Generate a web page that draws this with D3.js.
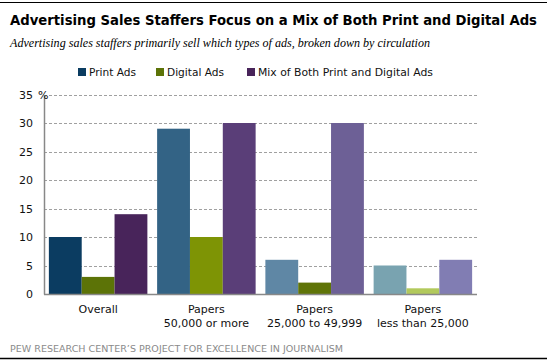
<!DOCTYPE html>
<html>
<head>
<meta charset="utf-8">
<script src="https://cdn.jsdelivr.net/npm/d3@7"></script>
<style>
  body { margin: 0; background: #fff; }
  text { font-family: "DejaVu Sans", Verdana, sans-serif; }
</style>
</head>
<body>
<svg id="chart" width="547" height="362"></svg>
<script>

var categories = [["Overall"], ["Papers", "50,000 or more"], ["Papers", "25,000 to 49,999"], ["Papers", "less than 25,000"]]
var series = ["Print Ads", "Digital Ads", "Mix of Both Print and Digital Ads"]
var print_ads = [10, 29, 6, 5]
var digital_ads = [3, 10, 2, 1]
var mix_ads = [14, 30, 30, 6]
var y_ticks = [0, 5, 10, 15, 20, 25, 30, 35]

// each group has its own shade of the three colours
var colors = [
  ["#0b3c61", "#5c7307", "#48245a"],
  ["#336385", "#7e9405", "#5a3e78"],
  ["#5f87a5", "#5f7408", "#6d6096"],
  ["#79a3b0", "#b2c95c", "#817db3"]
]

var svg = d3.select("#chart")

svg.append("line")
  .attr("x1", 0).attr("x2", 547).attr("y1", 2.5).attr("y2", 2.5)
  .attr("stroke", "#000").attr("stroke-width", 1)

svg.append("line")
  .attr("x1", 0).attr("x2", 547).attr("y1", 358.5).attr("y2", 358.5)
  .attr("stroke", "#000").attr("stroke-width", 1.5)

svg.append("text")
  .attr("x", 10).attr("y", 25)
  .attr("font-size", "13.5px").attr("font-weight", "bold")
  .attr("textLength", 527).attr("lengthAdjust", "spacingAndGlyphs")
  .text("Advertising Sales Staffers Focus on a Mix of Both Print and Digital Ads")

svg.append("text")
  .attr("x", 10).attr("y", 47)
  .attr("font-size", "12.5px").attr("font-style", "italic")
  .style("font-family", "'Liberation Serif', serif")
  .attr("textLength", 420).attr("lengthAdjust", "spacingAndGlyphs")
  .text("Advertising sales staffers primarily sell which types of ads, broken down by circulation")

svg.append("text")
  .attr("x", 10).attr("y", 352)
  .attr("font-size", "9.5px").attr("fill", "#8a8a8a")
  .attr("textLength", 333).attr("lengthAdjust", "spacingAndGlyphs")
  .text("PEW RESEARCH CENTER\u2019S PROJECT FOR EXCELLENCE IN JOURNALISM")

// legend
var legend_x = [78, 156, 247]
var legend_w = [47, 57, 175]
var legend = svg.append("g")
series.forEach(function(s, i){
  legend.append("rect")
    .attr("x", legend_x[i]).attr("y", 68)
    .attr("width", 8).attr("height", 8)
    .attr("fill", colors[0][i])
  legend.append("text")
    .attr("x", legend_x[i] + 11).attr("y", 76)
    .attr("font-size", "11px").attr("fill", "#111")
    .attr("textLength", legend_w[i]).attr("lengthAdjust", "spacingAndGlyphs")
    .text(s)
})

var margin = {left: 44, right: 477, top: 94.5, bottom: 294}

var x = d3.scaleBand()
  .domain(d3.range(categories.length))
  .range([margin.left, margin.right])
  .paddingInner(0.09)
  .paddingOuter(0.045)

var x_inner = d3.scaleBand()
  .domain(d3.range(series.length))
  .range([0, x.bandwidth()])

var y = d3.scaleLinear()
  .domain([0, 35])
  .range([margin.bottom, margin.top])

// gridlines
svg.append("g").selectAll("line")
  .data(y_ticks.slice(1))
  .join("line")
    .attr("x1", margin.left).attr("x2", margin.right)
    .attr("y1", function(d){ return Math.round(y(d)) + 0.5 })
    .attr("y2", function(d){ return Math.round(y(d)) + 0.5 })
    .attr("stroke", "#a0a0a0")
    .attr("stroke-dasharray", "3,2")

// bars
var rows = categories.map(function(c, i){
  return [print_ads[i], digital_ads[i], mix_ads[i]]
})

svg.append("g").selectAll("g")
  .data(rows)
  .join("g")
    .attr("transform", function(d, i){ return "translate(" + x(i) + ",0)" })
  .selectAll("rect")
  .data(function(d, i){ return d.map(function(v, j){ return {v: v, g: i, s: j} }) })
  .join("rect")
    .attr("x", function(d){ return x_inner(d.s) })
    .attr("width", x_inner.bandwidth())
    .attr("y", function(d){ return y(d.v) })
    .attr("height", function(d){ return y(0) - y(d.v) })
    .attr("fill", function(d){ return colors[d.g][d.s] })

// y axis
var y_axis = svg.append("g")
  .attr("transform", "translate(" + margin.left + ",0)")
  .call(d3.axisLeft(y).tickValues(y_ticks).tickSize(0).tickPadding(11))
y_axis.select(".domain").attr("stroke", "#888").attr("stroke-width", 1.5)
y_axis.selectAll("text")
  .attr("font-size", "11px").attr("fill", "#111")
  .style("font-family", "'DejaVu Sans', Verdana, sans-serif")

svg.append("text")
  .attr("x", 38).attr("y", 98.5)
  .attr("font-size", "11px").attr("fill", "#111")
  .text("%")

// x baseline
svg.append("line")
  .attr("x1", margin.left).attr("x2", margin.right)
  .attr("y1", margin.bottom + 0.5).attr("y2", margin.bottom + 0.5)
  .attr("stroke", "#888").attr("stroke-width", 1.5)

// category labels
svg.append("g").selectAll("text")
  .data(categories)
  .join("text")
    .attr("x", function(d, i){ return x(i) + x.bandwidth() / 2 })
    .attr("y", 312.5)
    .attr("text-anchor", "middle")
    .attr("font-size", "11px").attr("fill", "#111")
  .selectAll("tspan")
  .data(function(d){ return d })
  .join("tspan")
    .attr("x", function(){ return d3.select(this.parentNode).attr("x") })
    .attr("dy", function(d, i){ return i == 0 ? 0 : 14 })
    .text(function(d){ return d })

</script>
</body>
</html>
